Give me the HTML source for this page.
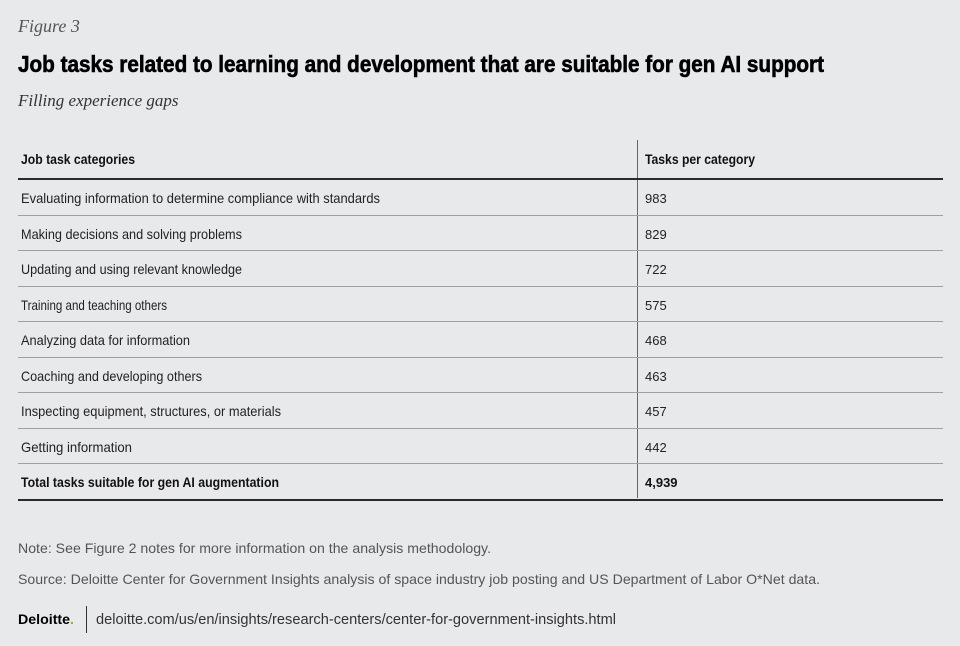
<!DOCTYPE html>
<html><head><meta charset="utf-8">
<style>
html,body{margin:0;padding:0}
body{width:960px;height:646px;background:#e8e9eb;position:relative;overflow:hidden;font-family:"Liberation Sans",sans-serif;color:#222}
.abs{position:absolute;white-space:nowrap;transform-origin:0 50%}
.fig{left:18px;top:16px;font-family:"Liberation Serif",serif;font-style:italic;font-size:18px;color:#555}
.title{left:18px;top:51px;font-weight:bold;font-size:23px;color:#000;-webkit-text-stroke:0.6px #000}
.sub{left:18px;top:91px;font-family:"Liberation Serif",serif;font-style:italic;font-size:17px;color:#333}
.hline{position:absolute;left:18px;width:925px;height:1px;background:#a0a0a0}
.thick{height:2px;background:#2a2a2a}
.vline{position:absolute;left:637px;top:140px;width:1px;height:358px;background:#666}
.cell{font-size:14px;color:#222}
.val{font-size:13px}
.bold{font-weight:bold;color:#111}
.note{font-size:14px;color:#555}
</style></head>
<body>
<div class="abs fig">Figure 3</div>
<div class="abs title fit" data-w="806">Job tasks related to learning and development that are suitable for gen AI support</div>
<div class="abs sub">Filling experience gaps</div>
<div id="table">
<div class="vline"></div>
<div class="abs cell bold fit" data-w="114" style="left:21px;top:151px">Job task categories</div>
<div class="abs cell bold fit" data-w="110" style="left:645px;top:151px">Tasks per category</div>
<div class="hline thick" style="top:178px"></div>
</div>
<div class="abs note fit" data-w="473" style="left:18px;top:540px">Note: See Figure 2 notes for more information on the analysis methodology.</div>
<div class="abs note fit" data-w="802" style="left:18px;top:571px">Source: Deloitte Center for Government Insights analysis of space industry job posting and US Department of Labor O*Net data.</div>
<div class="abs fit" data-w="56" style="left:18px;top:611px;font-weight:bold;font-size:14px;color:#000">Deloitte<span style="color:#86bc25">.</span></div>
<div style="position:absolute;left:86px;top:606px;width:1px;height:27px;background:#333"></div>
<div class="abs note fit" data-w="520" style="left:96px;top:611px;color:#333;font-size:15px">deloitte.com/us/en/insights/research-centers/center-for-government-insights.html</div>
<script>
const categories=["Evaluating information to determine compliance with standards","Making decisions and solving problems","Updating and using relevant knowledge","Training and teaching others","Analyzing data for information","Coaching and developing others","Inspecting equipment, structures, or materials","Getting information"];
const values=[983,829,722,575,468,463,457,442];
const totalLabel="Total tasks suitable for gen AI augmentation";
const totalValue=4939;
const catWidths=[359,221,221,146,169,181,260,111];
const tbl=document.getElementById('table');
const rowH=35.5, top0=179;
function addText(txt,x,y,cls,w,name){
  const d=document.createElement('div');
  d.className='abs cell '+cls;
  d.style.left=x+'px';d.style.top=y+'px';
  d.textContent=txt;
  if(w){d.classList.add('fit');d.dataset.w=w;}
  
  
  tbl.appendChild(d);
}
categories.forEach((c,i)=>{
  const y=top0+i*rowH;
  addText(c,21,y+11,'',catWidths[i],'row-category');
  addText(String(values[i]),645,y+12,'val',0,'row-value');
  const l=document.createElement('div');
  l.className='hline';l.style.top=(y+rowH)+'px';
  
  
  tbl.appendChild(l);
});
const ty=top0+categories.length*rowH;
addText(totalLabel,21,ty+11,'bold',258,'total-label');
addText(totalValue.toLocaleString('en-US'),645,ty+12,'bold val',0,'total-value');
const b=document.createElement('div');
b.className='hline thick';b.style.top=(ty+rowH)+'px';


tbl.appendChild(b);
document.querySelectorAll('.fit').forEach(e=>{
  const w=+e.dataset.w;if(!w)return;
  const r=e.getBoundingClientRect().width;
  if(r>0)e.style.transform='scaleX('+(w/r)+')';
});
</script>
</body></html>
